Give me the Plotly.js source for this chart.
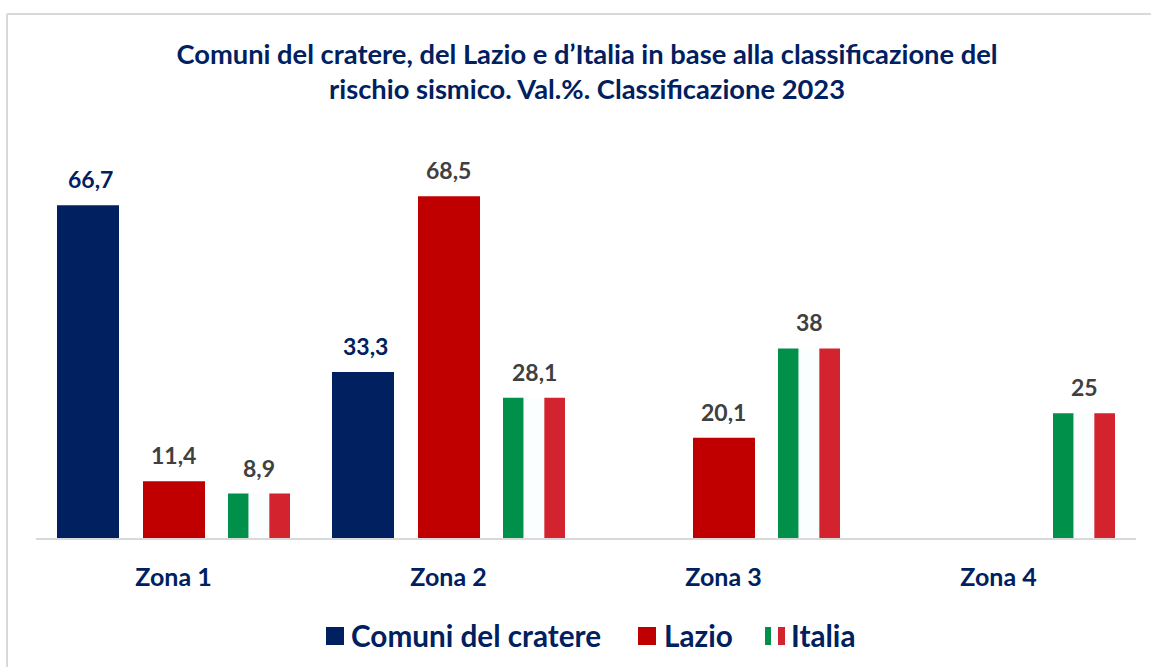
<!DOCTYPE html>
<html><head><meta charset="utf-8">
<script src="https://cdn.plot.ly/plotly-3.0.1.min.js"></script>
<style>html,body{margin:0;padding:0;background:#fff}#c{width:1151px;height:667px}</style>
</head><body><div id="c"></div>
<script>
const categories = ['Zona 1','Zona 2','Zona 3','Zona 4'];
const cratere = [66.7, 33.3, null, null];
const lazio = [11.4, 68.5, 20.1, null];
const italia = [8.9, 28.1, 38, 25];
const titleText = 'Comuni del cratere, del Lazio e d’Italia in base alla classificazione del<br>rischio sismico. Val.%. Classificazione 2023';
const legendNames = ['Comuni del cratere','Lazio','Italia'];

const NAVY='#002060', RED='#C00000', GREEN='#00904A', WHITE='#FBFEFF', FLAGRED='#D2232E', GREY='#404040', LINE='#D9D9D9';
const FONT='Lato, Carlito, sans-serif';
const W=1151, H=667, L=36, R=15, T=139, B=129;
const pw=W-L-R, ph=H-T-B;
const px=x=>(x-L)/pw, py=y=>(H-B-y)/ph;

const bw=62/275, step=85.5/275, third=bw/3;
function bar(name,y,color,offset,width){
  return {type:'bar',name,x:categories,y,offset,width,marker:{color,line:{width:0}},hoverinfo:'x+y+name',showlegend:false};
}
const traces=[
  bar(legendNames[0],cratere,NAVY,-step-bw/2,bw),
  bar(legendNames[1],lazio,RED,-bw/2+0.5/275,bw),
  bar(legendNames[2],italia,GREEN,step-bw/2,third),
  bar(legendNames[2],italia,WHITE,step-bw/2+third,third),
  bar(legendNames[2],italia,FLAGRED,step-bw/2+2*third,third)
];
const ann=[];
function labels(vals,off,color){
  vals.forEach((v,i)=>{ if(v===null) return;
    ann.push({x:categories[i],y:v,xref:'x',yref:'y',xshift:off*275,yshift:10,yanchor:'bottom',showarrow:false,
      text:String(v).replace('.',','),font:{family:FONT,size:23,weight:700,color}});
  });
}
labels(cratere,-step+2/275,NAVY); labels(lazio,0,GREY); labels(italia,step,GREY);
function legText(x,t){ann.push({xref:'paper',yref:'paper',x:px(x),y:py(635.5),xanchor:'left',yanchor:'middle',showarrow:false,
  text:t,font:{family:FONT,size:29.7,weight:700,color:NAVY},borderpad:0,borderwidth:0});}
legText(351,legendNames[0]); legText(663.5,legendNames[1]); legText(791,legendNames[2]);
function rect(x0,x1,y0,y1,fill){return {type:'rect',xref:'paper',yref:'paper',x0:px(x0),x1:px(x1),y0:py(y1),y1:py(y0),fillcolor:fill,line:{width:0},layer:'above'};}
function hline(x0,y0,x1,y1){return {type:'line',xref:'paper',yref:'paper',x0:px(x0),x1:px(x1),y0:py(y0),y1:py(y1),line:{color:LINE,width:2}};}
const shapes=[
  hline(7,14,1151,14), hline(7,14,7,667),
  rect(326,344,627,645,NAVY), rect(638,656,627,645,RED),
  rect(765,771,627,645,GREEN), rect(771,778,627,645,WHITE), rect(778,785,627,645,FLAGRED)
];
const layout={
  width:W,height:H,margin:{l:L,r:R,t:T,b:B,pad:0},paper_bgcolor:'#fff',plot_bgcolor:'#fff',
  barmode:'overlay',showlegend:false,
  title:{text:titleText,x:587/W,xref:'container',xanchor:'center',y:1-63.5/H,yref:'container',yanchor:'top',
    font:{family:FONT,size:27.3,weight:700,color:NAVY}},
  xaxis:{type:'category',categoryorder:'array',categoryarray:categories,range:[-0.5,3.5],showgrid:false,zeroline:false,
    showline:true,linecolor:LINE,linewidth:2,ticks:'',ticklabelstandoff:16,tickfont:{family:FONT,size:25,weight:700,color:NAVY}},
  yaxis:{range:[0,80],showgrid:false,zeroline:false,showline:false,showticklabels:false,ticks:''},
  annotations:ann,shapes
};
Plotly.newPlot('c',traces,layout,{displayModeBar:false,responsive:false});
</script></body></html>
